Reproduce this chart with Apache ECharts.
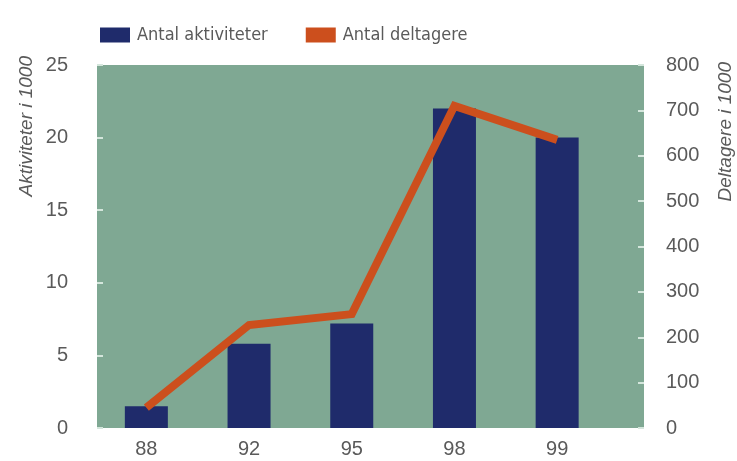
<!DOCTYPE html>
<html><head><meta charset="utf-8">
<script src="https://cdn.jsdelivr.net/npm/echarts@6/dist/echarts.min.js"></script>
<style>html,body{margin:0;padding:0;background:#fff;}#c{width:737px;height:461px;}</style>
</head><body><div id="c"></div>
<script>
var categories = ['88', '92', '95', '98', '99'];
var activities = [1.5, 5.8, 7.2, 22, 20];
var participants = [45, 227, 251, 710, 635];
var leftTicks = [0, 5, 10, 15, 20, 25];
var rightTicks = [0, 100, 200, 300, 400, 500, 600, 700, 800];

var txt = '#5a5a5a';
var ff = "'DejaVu Sans Condensed', 'Liberation Sans', sans-serif";
var chart = echarts.init(document.getElementById('c'));
chart.setOption({
  animation: false,
  legend: {
    left: 95, top: 21, itemWidth: 30, itemHeight: 15, itemGap: 38,
    icon: 'rect',
    textStyle: { fontFamily: ff, fontSize: 18, color: txt, padding: [0,0,0,2] },
    data: ['Antal aktiviteter', 'Antal deltagere']
  },
  grid: [
    { left: 95, top: 65, bottom: 33, width: 513.5, show: false },
    { left: 97, top: 65, bottom: 33, right: 93, show: true, backgroundColor: '#7fa893', borderWidth: 0, z: -1 }
  ],
  xAxis: [
    { type: 'category', gridIndex: 0, data: categories,
      axisLine: { show: false }, axisTick: { show: false },
      axisLabel: { margin: 11, fontFamily: 'Liberation Sans', fontSize: 20, color: txt } },
    { type: 'value', gridIndex: 1, show: false }
  ],
  yAxis: [
    { type: 'value', gridIndex: 0, min: leftTicks[0], max: leftTicks[leftTicks.length-1], interval: 5,
      position: 'left', offset: -2,
      axisLine: { show: false }, splitLine: { show: false },
      axisTick: { show: true, inside: true, length: 6, lineStyle: { color: '#d4e6dc', width: 2 } },
      axisLabel: { margin: 29, fontFamily: 'Liberation Sans', fontSize: 20, color: txt } },
    { type: 'value', gridIndex: 0, min: rightTicks[0], max: rightTicks[rightTicks.length-1], interval: 100,
      position: 'right', offset: 35.5,
      axisLine: { show: false }, splitLine: { show: false },
      axisTick: { show: true, inside: true, length: 6, lineStyle: { color: '#d4e6dc', width: 2 } },
      axisLabel: { margin: 22, fontFamily: 'Liberation Sans', fontSize: 20, color: txt } },
    { type: 'value', gridIndex: 1, show: false }
  ],
  graphic: [
    { type: 'text', left: 17, top: 56, rotation: Math.PI/2, style: { text: 'Aktiviteter i 1000', fontFamily: 'Liberation Sans', fontStyle: 'italic', fontSize: 19, fill: txt } },
    { type: 'text', left: 716, top: 62, rotation: Math.PI/2, style: { text: 'Deltagere i 1000', fontFamily: 'Liberation Sans', fontStyle: 'italic', fontSize: 19, fill: txt } }
  ],
  series: [
    { name: 'Antal aktiviteter', type: 'bar', xAxisIndex: 0, yAxisIndex: 0, data: activities,
      barWidth: 43, itemStyle: { color: '#1f2b6b' } },
    { name: 'Antal deltagere', type: 'line', xAxisIndex: 0, yAxisIndex: 1, data: participants,
      symbol: 'none', itemStyle: { color: '#cc4f1d' }, lineStyle: { color: '#cc4f1d', width: 8, cap: 'butt', join: 'miter' } }
  ]
});
</script></body></html>
